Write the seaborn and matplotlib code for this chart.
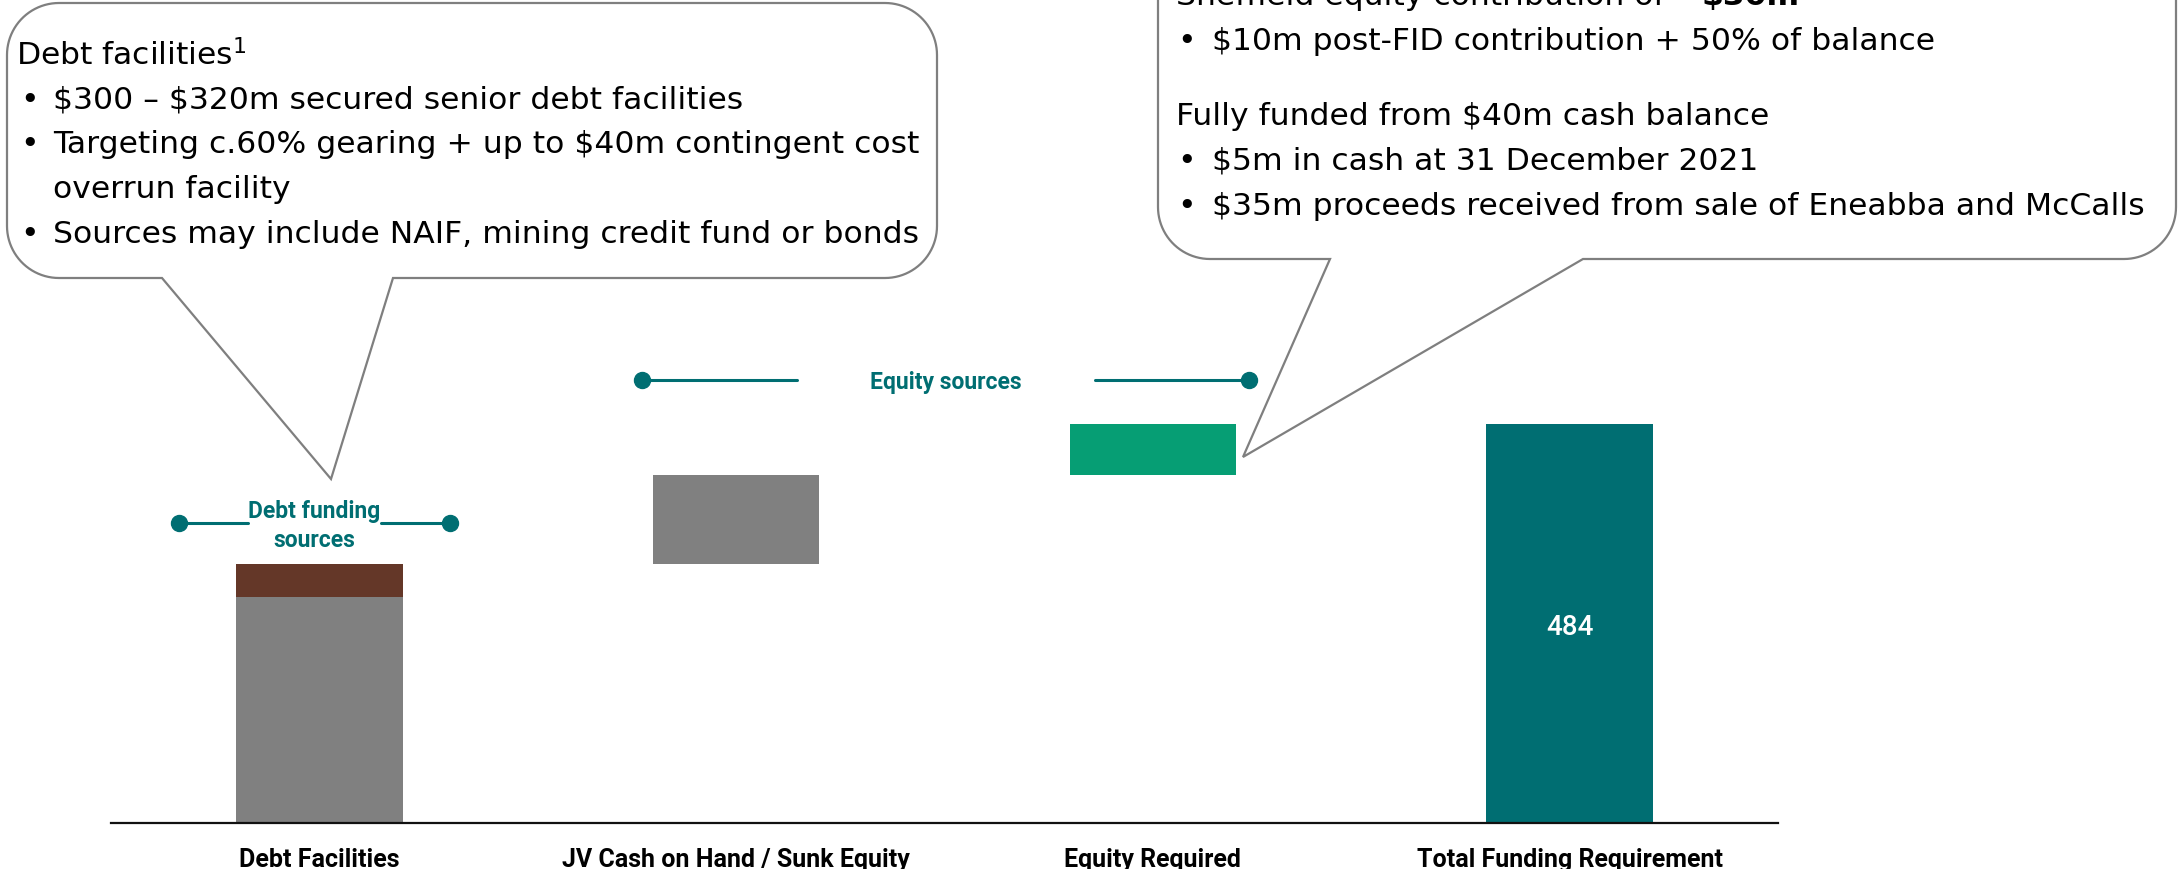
import numpy as np
import pandas as pd
import matplotlib
matplotlib.use("Agg")
import matplotlib.pyplot as plt
from matplotlib.patches import Polygon
import seaborn as sns

# --- data (US$m) ---
categories = ["Debt Facilities", "JV Cash on Hand / Sunk Equity",
              "Equity Required", "Total Funding Requirement"]
senior_debt = 274
overrun_facility = 40
jv_cash = 108
equity_required = 62
total_requirement = 484

segment_cats = [categories[0], categories[0], categories[1], categories[2], categories[3]]
segment_values = [senior_debt, overrun_facility, jv_cash, equity_required, total_requirement]
segment_colors = ["#808080", "#643728", "#808080", "#069E74", "#006E72"]

left_note = ["\\$300 – \\$320m secured senior debt facilities",
             "Targeting c.60% gearing + up to \\$40m contingent cost",
             None,
             "Sources may include NAIF, mining credit fund or bonds"]
left_note_cont = "overrun facility"
right_bullets_1 = ["\\$10m post-FID contribution + 50% of balance"]
right_head_2 = "Fully funded from \\$40m cash balance"
right_bullets_2 = ["\\$5m in cash at 31 December 2021",
                   "\\$35m proceeds received from sale of Eneabba and McCalls"]

TEAL = "#006E72"
EDGE = "#7f7f7f"
W, H = 2178, 869

sns.set_style("white")
plt.rcParams["font.family"] = ["DejaVu Sans"]
plt.rcParams["text.color"] = "black"

fig = plt.figure(figsize=(W / 100, H / 100), dpi=100)
ax = fig.add_axes([111 / W, 46.3 / H, 1667 / W, 823.7 / H])

# waterfall: each floating bar starts where the previous ended, total from 0
bottoms = list(np.cumsum([0] + segment_values[:3])) + [0]
df = pd.DataFrame({"category": segment_cats, "value": segment_values,
                   "bottom": bottoms, "color": segment_colors})

for _, row in df.iterrows():
    sns.barplot(x=[row["category"]], y=[row["value"]], order=categories,
                color=row["color"], saturation=1, width=0.4, errorbar=None,
                bottom=row["bottom"], linewidth=0, ax=ax)

ax.set_xlim(-0.5, 3.5)
ax.set_ylim(0, 1000)
ax.set_yticks([])
ax.set_xlabel("")
ax.set_ylabel("")
for s in ["left", "right", "top"]:
    ax.spines[s].set_visible(False)
ax.spines["bottom"].set_color("#111111")
ax.spines["bottom"].set_linewidth(1.6)
ax.tick_params(axis="x", length=0, pad=18)
for lab in ax.get_xticklabels():
    lab.set_fontfamily(["Roboto", "DejaVu Sans"])
    lab.set_fontweight("bold")
    lab.set_fontsize(18)
    lab.set_color("black")
ax.patch.set_alpha(0)

ax.text(3, total_requirement / 2 - 5, str(total_requirement), ha="center", va="center",
        color="white", fontsize=20, fontweight="medium", family=["Roboto", "DejaVu Sans"])

# brackets
ax.plot([-0.337, -0.172], [364, 364], color=TEAL, lw=2.2)
ax.plot([0.148, 0.313], [364, 364], color=TEAL, lw=2.2)
ax.plot([-0.337, 0.313], [364, 364], ls="none", marker="o", ms=11.5, color=TEAL)
ax.text(-0.012, 360, "Debt funding\nsources", ha="center", va="center", color=TEAL,
        fontweight="bold", fontsize=16.5, family=["Roboto", "DejaVu Sans"], linespacing=1.3)

ax.plot([0.775, 1.146], [537, 537], color=TEAL, lw=2.2)
ax.plot([1.861, 2.230], [537, 537], color=TEAL, lw=2.2)
ax.plot([0.775, 2.230], [537, 537], ls="none", marker="o", ms=11.5, color=TEAL)
ax.text(1.503, 535, "Equity sources", ha="center", va="center", color=TEAL,
        fontweight="bold", fontsize=16.5, family=["Roboto", "DejaVu Sans"])

# overlay in pixel coords for the callouts
ov = fig.add_axes([0, 0, 1, 1], zorder=3)
ov.set_xlim(0, W)
ov.set_ylim(H, 0)
ov.axis("off")
ov.patch.set_alpha(0)


def bubble(x0, y0, x1, y1, r, base_l, base_r, tip):
    def arc(cx, cy, a0, a1):
        t = np.radians(np.linspace(a0, a1, 24))
        return list(zip(cx + r * np.cos(t), cy + r * np.sin(t)))
    pts = []
    pts += arc(x1 - r, y0 + r, -90, 0)
    pts += arc(x1 - r, y1 - r, 0, 90)
    pts += [(base_r, y1), tip, (base_l, y1)]
    pts += arc(x0 + r, y1 - r, 90, 180)
    pts += arc(x0 + r, y0 + r, 180, 270)
    return Polygon(pts, closed=True, facecolor="white", edgecolor=EDGE, lw=1.6)


ov.add_patch(bubble(7, 3, 937, 278, 52, 162, 393, (331, 479)))
ov.add_patch(bubble(1158, -150, 2176, 259, 52, 1330, 1583, (1243, 457)))

FS = 22.6
ov.text(16, 65, "Debt facilities$^{1}$", fontsize=FS, va="baseline")
y = 108.5
for line in left_note:
    if line is None:
        ov.text(53, y, left_note_cont, fontsize=FS, va="baseline")
    else:
        ov.text(20, y, "•", fontsize=FS, va="baseline")
        ov.text(53, y, line, fontsize=FS, va="baseline")
    y += 44.8

t0 = ov.text(1176, 5, "Sheffield equity contribution of ~", fontsize=FS, va="baseline")
fig.canvas.draw()
bb = t0.get_window_extent()
x_end = ov.transData.inverted().transform((bb.x1, bb.y0))[0]
ov.text(x_end, 5, "\\$30m", fontsize=FS, va="baseline", fontweight="bold")

for i, line in enumerate(right_bullets_1):
    ov.text(1177, 50 + 45 * i, "•", fontsize=FS, va="baseline")
    ov.text(1212, 50 + 45 * i, line, fontsize=FS, va="baseline")
ov.text(1176, 125, right_head_2, fontsize=FS, va="baseline")
for i, line in enumerate(right_bullets_2):
    ov.text(1177, 170 + 45 * i, "•", fontsize=FS, va="baseline")
    ov.text(1212, 170 + 45 * i, line, fontsize=FS, va="baseline")

fig.savefig("out.png", dpi=100, facecolor="white")
